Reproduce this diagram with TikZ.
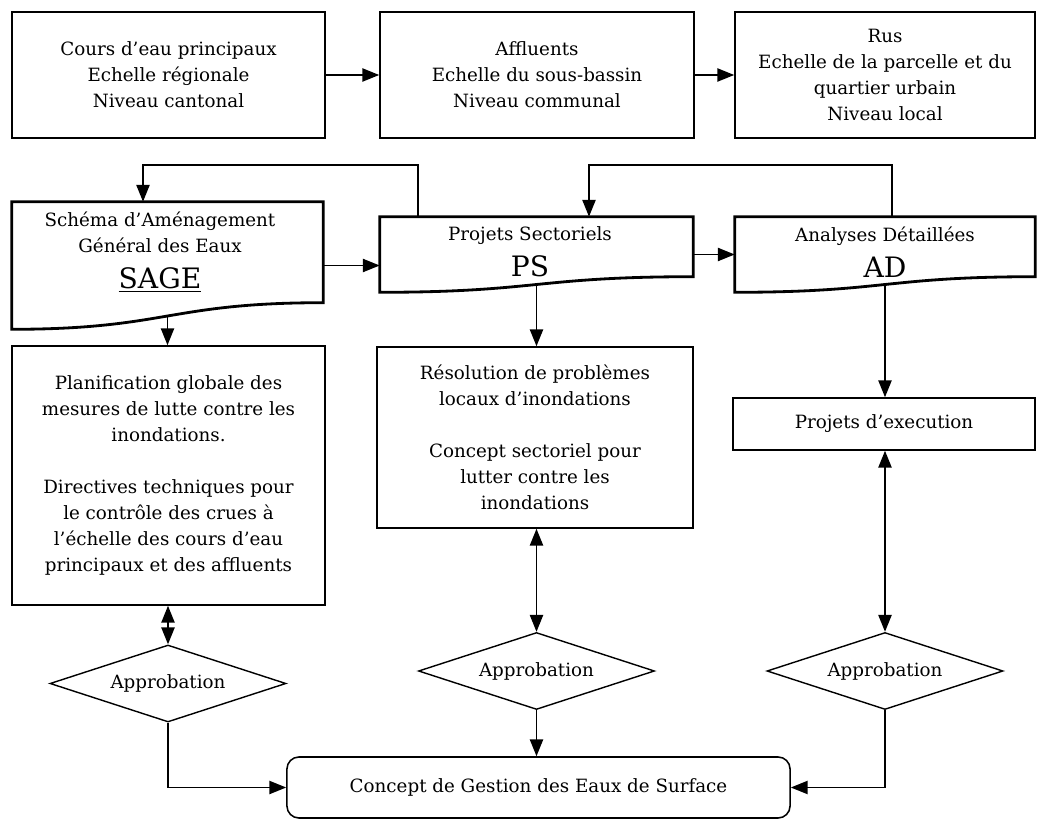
\documentclass[tikz,border=0pt]{standalone}
\usepackage{fontspec}
\setmainfont{DejaVu Serif}
\usetikzlibrary{shapes.geometric,arrows.meta}
\newcommand\txtsize{\fontsize{13}{18.5}\selectfont}
\newcommand\abbrsize{\fontsize{20}{22}\selectfont}

\begin{document}
\begin{tikzpicture}[x=0.025cm, y=-0.025cm,
  box/.style={draw, line width=1.1pt, align=center, inner sep=0pt, font=\txtsize},
  docframe/.style={inner sep=0pt},
  docline/.style={line width=2pt, line join=miter},
  lbl/.style={align=center, font=\txtsize},
  decide/.style={draw, diamond, aspect=3.06, line width=1pt, inner sep=0pt,
    minimum width=5.9cm, minimum height=1.925cm, font=\txtsize},
  arr/.style={-{Triangle[length=4.2mm, width=3.3mm]}, line width=1.1pt},
  darr/.style={{Triangle[length=4.2mm, width=3.3mm]}-{Triangle[length=4.2mm, width=3.3mm]}, line width=1.1pt}]
  \useasboundingbox (0,0) rectangle (1041,820);

  % ------- top row: the three scales -------
  \node[box, minimum width=7.825cm, minimum height=3.15cm] (cours) at (168.5,75)
    {Cours d'eau principaux\\ Echelle régionale\\ Niveau cantonal};
  \node[box, minimum width=7.85cm, minimum height=3.15cm] (affl) at (537,75)
    {Affluents\\ Echelle du sous-bassin\\ Niveau communal};
  \node[box, minimum width=7.5cm, minimum height=3.15cm] (rus) at (885,75)
    {Rus\\ Echelle de la parcelle et du\\ quartier urbain\\ Niveau local};
  \draw[arr] (cours) -- (affl);
  \draw[arr] (affl) -- (rus);

  % ------- document row: SAGE, PS, AD -------
  \node[docframe, minimum width=7.775cm, minimum height=3.175cm] (sage) at (167.5,265.5) {};
  \draw[docline] (sage.north west) -- (sage.north east) -- ++(0,101)
    .. controls +(-155,0) and +(155,0) .. (sage.south west) coordinate[pos=0.5] (sagebot) -- cycle;
  \node[lbl] (sagetxt) at (160,252)
    {Schéma d'Aménagement\\ Général des Eaux\\[7pt] {\abbrsize\underline{SAGE}}};

  \node[docframe, minimum width=7.825cm, minimum height=1.875cm] (ps) at (536.5,254.5) {};
  \draw[docline] (ps.north west) -- (ps.north east) -- ++(0,60)
    .. controls +(-157,0) and +(157,0) .. (ps.south west) coordinate[pos=0.5] (psbot) -- cycle;
  \node[lbl] (pstxt) at (530,252) {Projets Sectoriels\\[7pt] {\abbrsize PS}};

  \node[docframe, minimum width=7.5cm, minimum height=1.875cm] (ad) at (885,254.5) {};
  \draw[docline] (ad.north west) -- (ad.north east) -- ++(0,60)
    .. controls +(-150,0) and +(150,0) .. (ad.south west) coordinate[pos=0.5] (adbot) -- cycle;
  \node[lbl] (adtxt) at (885,252) {Analyses Détaillées\\[7pt] {\abbrsize AD}};

  \draw[arr] (sage.east) -- (sage.east -| ps.west);
  \draw[arr] (ps.east) -- (ad.west);

  % feedback loops
  \coordinate (fbl) at (418,165);
  \coordinate (fbl2) at (143,165);
  \coordinate (fbr) at (892,165);
  \coordinate (fbr2) at (589,165);
  \draw[arr] (ps.north -| fbl) -- (fbl) -- (fbl2) -- (fbl2 |- sage.north);
  \draw[arr] (ad.north -| fbr) -- (fbr) -- (fbr2) -- (fbr2 |- ps.north);

  % ------- third row -------
  \node[box, minimum width=7.825cm, minimum height=6.475cm] (plan) at (168.5,475.5)
    {Planification globale des\\ mesures de lutte contre les\\ inondations.\\[18.5pt]
     Directives techniques pour\\ le contrôle des crues à\\ l'échelle des cours d'eau\\
     principaux et des affluents};
  \node[box, minimum width=7.9cm, minimum height=4.525cm] (reso) at (535,437.5)
    {Résolution de problèmes\\ locaux d'inondations\\[18.5pt]
     Concept sectoriel pour\\ lutter contre les\\ inondations};
  \node[box, minimum width=7.55cm, minimum height=1.3cm] (exec) at (884,424) {Projets d'execution};

  \draw[arr] (sagebot) -- (sagebot |- plan.north);
  \draw[arr] (psbot) -- (psbot |- reso.north);
  \draw[arr] (adbot) -- (adbot |- exec.north);

  % ------- approval and final concept -------
  \node[decide] (apl) at (168,683.5) {Approbation};
  \node[decide] (apm) at (536.5,671) {Approbation};
  \node[decide] (apr) at (885,671) {Approbation};

  \draw[darr] (plan.south -| apl) -- (apl.north);
  \draw[darr] (reso.south -| apm) -- (apm.north);
  \draw[darr] (exec.south -| apr) -- (apr.north);

  \node[box, rounded corners=0.3cm, minimum width=12.575cm, minimum height=1.525cm] (gestion)
    at (538.5,787.5) {Concept de Gestion des Eaux de Surface};
  \draw[arr] (apl.south) |- (gestion.west);
  \draw[arr] (apm.south) -- (apm.south |- gestion.north);
  \draw[arr] (apr.south) |- (gestion.east);
\end{tikzpicture}
\end{document}
